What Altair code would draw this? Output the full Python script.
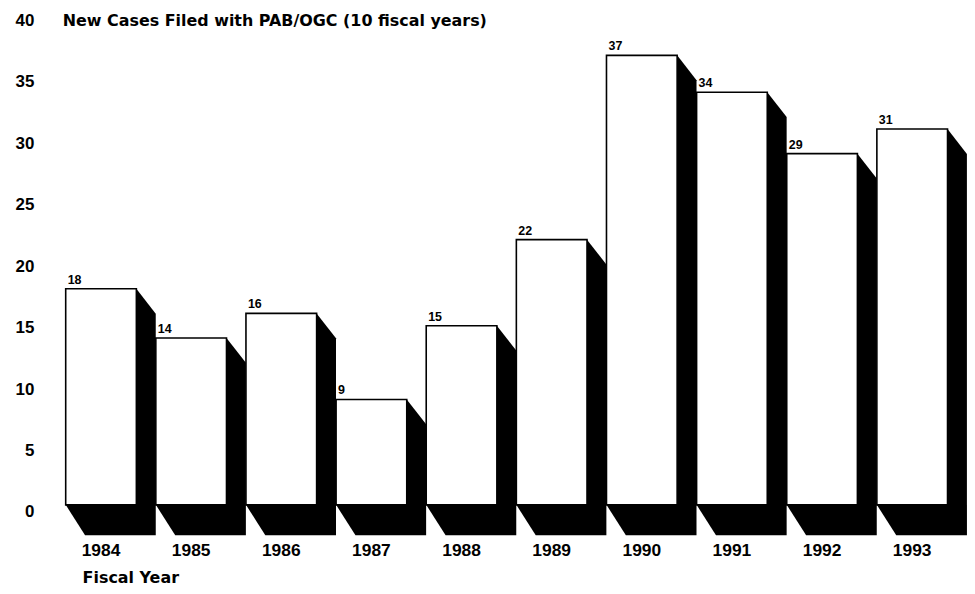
import altair as alt
import pandas as pd

# ---- data ----
years = ["1984", "1985", "1986", "1987", "1988", "1989", "1990", "1991", "1992", "1993"]
cases = [18, 14, 16, 9, 15, 22, 37, 34, 29, 31]
y_ticks = [0, 5, 10, 15, 20, 25, 30, 35, 40]
title_text = "New Cases Filed with PAB/OGC (10 fiscal years)"
x_title = "Fiscal Year"

# ---- style constants (3-D look) ----
BAR_W = 0.784      # front face width, in bar steps
DEPTH_X = 0.215    # extrusion to the right, in bar steps
DROP_TOP = 2.02    # drop of the side-face top edge, in value units
DROP_BOT = 2.47    # depth of the floor shadow, in value units
FLOOR = 0.42       # front faces sit slightly above zero
FONT = "Liberation Sans"
WIDE_FONT = "DejaVu Sans"

# ---- tables built from the arrays ----
bars = pd.DataFrame({
    "year": years,
    "value": cases,
    "i": list(range(len(years))),
})
bars["x0"] = bars["i"]
bars["x1"] = bars["i"] + BAR_W
bars["xc"] = bars["i"] + BAR_W / 2
bars["floor"] = FLOOR
bars["zero"] = 0.0

rows = []
for i, (yr, v) in enumerate(zip(years, cases)):
    rows.append({"year": yr, "x": i, "top": v, "bot": FLOOR})
    rows.append({"year": yr, "x": i + DEPTH_X, "top": v, "bot": FLOOR - DROP_BOT})
    rows.append({"year": yr, "x": i + BAR_W, "top": v, "bot": FLOOR - DROP_BOT})
    rows.append({"year": yr, "x": i + BAR_W + DEPTH_X, "top": v - DROP_TOP, "bot": FLOOR - DROP_BOT})
shadow = pd.DataFrame(rows)

xscale = alt.Scale(domain=[0, 10], nice=False, zero=False)
yscale = alt.Scale(domain=[-2.5, 40], nice=False, zero=False)
yaxis = alt.Axis(
    values=y_ticks, title=None, domain=False, ticks=False, grid=False,
    labelFont=FONT, labelFontSize=17, labelFontWeight="bold", labelColor="black",
    labelPadding=32, labelBaseline="middle", labelOffset=2,
)

shadow_layer = alt.Chart(shadow).mark_area(
    color="black", orient="vertical", interpolate="linear"
).encode(
    x=alt.X("x:Q", scale=xscale, axis=None),
    y=alt.Y("top:Q", scale=yscale, axis=yaxis),
    y2="bot:Q",
    detail="year:N",
)

front_layer = alt.Chart(bars).mark_rect(
    fill="white", stroke="black", strokeWidth=1.6
).encode(
    x=alt.X("x0:Q", scale=xscale, axis=None),
    x2="x1:Q",
    y=alt.Y("value:Q", scale=yscale, axis=yaxis),
    y2="floor:Q",
)

value_labels = alt.Chart(bars).mark_text(
    align="left", baseline="middle", dx=2, dy=-9,
    font=FONT, fontSize=12.5, fontWeight="bold", color="black",
).encode(
    x=alt.X("x0:Q", scale=xscale, axis=None),
    y=alt.Y("value:Q", scale=yscale, axis=yaxis),
    text="value:Q",
)

year_labels = alt.Chart(bars).mark_text(
    align="center", baseline="middle", dy=41,
    font=FONT, fontSize=17.5, fontWeight="bold", color="black",
).encode(
    x=alt.X("xc:Q", scale=xscale, axis=None),
    y=alt.Y("zero:Q", scale=yscale, axis=yaxis),
    text="year:N",
)

title_layer = alt.Chart(pd.DataFrame({"t": [title_text]})).mark_text(
    align="left", baseline="middle",
    font=WIDE_FONT, fontSize=16, fontWeight="bold", color="black",
).encode(x=alt.value(-3), y=alt.value(3), text="t:N")

xtitle_layer = alt.Chart(pd.DataFrame({"t": [x_title]})).mark_text(
    align="left", baseline="middle",
    font=WIDE_FONT, fontSize=16, fontWeight="bold", color="black",
).encode(x=alt.value(17), y=alt.value(562), text="t:N")

chart = alt.layer(
    shadow_layer, front_layer, value_labels, year_labels, title_layer, xtitle_layer
).properties(
    width=906, height=525,
    autosize=alt.AutoSizeParams(type="none"),
    padding={"left": 58, "top": 9, "right": 0, "bottom": 50},
    background="white",
).configure_view(stroke=None)

chart.save("out.html", embed_options={"renderer": "svg", "actions": False})
